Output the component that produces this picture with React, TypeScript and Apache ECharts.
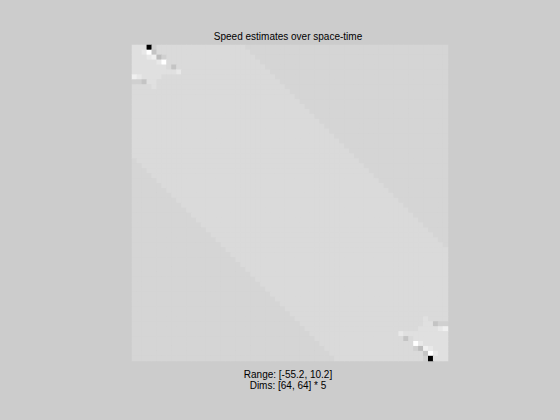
import React, { useEffect, useRef } from "react";
import * as echarts from "echarts";

// Title and annotation texts
const TITLE = "Speed estimates over space-time";
const RANGE_LABEL = "Range: [-55.2, 10.2]";
const DIMS_LABEL = "Dims: [64, 64] * 5";

// Colour scale limits (grayscale: min -> black, max -> white)
const RANGE_MIN = -55.2;
const RANGE_MAX = 10.2;

// Value levels (code -> speed estimate)
const LEVEL_CODES = ["a", "b", "c", "d", "e", "g", "h", "w", "W", "K"];
const LEVEL_VALUES = [0.7, -0.6, 2.2, -1.8, 4.3, -4.9, -7.0, 6.3, 10.2, -55.2];

// 64 rows of the 64x64 image, run-length encoded: <code><count>
const ROWS = [
  "c3 K1 d1 a18 b41",
  "c2 e1 W1 g1 a19 b40",
  "c3 e1 w1 h1 d1 a18 b39",
  "c5 e1 W1 a19 b38",
  "c7 a1 g1 a18 b37",
  "c9 e1 a18 b36",
  "w1 e1 c4 a23 b35",
  "d2 g1 c2 a25 b34",
  "a4 c1 a26 b33",
  "a32 b32",
  "a33 b31",
  "a34 b30",
  "a35 b29",
  "a36 b28",
  "a37 b27",
  "a38 b26",
  "a39 b25",
  "a40 b24",
  "a41 b23",
  "a42 b22",
  "a43 b21",
  "a44 b20",
  "a45 b19",
  "b1 a45 b18",
  "b2 a45 b17",
  "b3 a45 b16",
  "b4 a45 b15",
  "b5 a45 b14",
  "b6 a45 b13",
  "b7 a45 b12",
  "b8 a45 b11",
  "b9 a45 b10",
  "b10 a45 b9",
  "b11 a45 b8",
  "b12 a45 b7",
  "b13 a45 b6",
  "b14 a45 b5",
  "b15 a45 b4",
  "b16 a45 b3",
  "b17 a45 b2",
  "b18 a45 b1",
  "b19 a45",
  "b20 a44",
  "b21 a43",
  "b22 a42",
  "b23 a41",
  "b24 a40",
  "b25 a39",
  "b26 a38",
  "b27 a37",
  "b28 a36",
  "b29 a35",
  "b30 a34",
  "b31 a33",
  "b32 a32",
  "b33 a26 c1 a4",
  "b34 a25 c2 g1 d2",
  "b35 a23 c4 e1 w1",
  "b36 a18 e1 c9",
  "b37 a18 g1 a1 c7",
  "b38 a19 W1 e1 c5",
  "b39 a18 d1 h1 w1 e1 c3",
  "b40 a19 g1 W1 e1 c2",
  "b41 a18 d1 K1 c3",
];

function decodeRow(row: string): number[] {
  const out: number[] = [];
  row.split(" ").forEach((tok) => {
    const code = tok[0];
    const n = parseInt(tok.slice(1), 10);
    const v = LEVEL_VALUES[LEVEL_CODES.indexOf(code)];
    for (let i = 0; i < n; i++) out.push(v);
  });
  return out;
}

export default function App() {
  const ref = useRef<HTMLDivElement>(null);
  useEffect(() => {
    if (!ref.current) return;
    const chart = echarts.init(ref.current, null, { renderer: "svg" });
    const grid = ROWS.map(decodeRow);
    const nRows = grid.length;
    const nCols = grid[0].length;
    const cats = (n: number) => Array.from({ length: n }, (_, i) => String(i));
    const data: [number, number, number][] = [];
    grid.forEach((row, r) => row.forEach((v, c) => data.push([c, r, v])));
    const font = '"Liberation Sans", Arial, Helvetica, sans-serif';
    chart.setOption({
      animation: false,
      backgroundColor: "#cccccc",
      grid: { left: 132, top: 45, width: 316, height: 316 },
      xAxis: { type: "category", data: cats(nCols), show: false },
      yAxis: { type: "category", data: cats(nRows), show: false, inverse: true },
      visualMap: {
        show: false,
        type: "continuous",
        min: RANGE_MIN,
        max: RANGE_MAX,
        inRange: { color: ["#000000", "#ffffff"] },
      },
      series: [
        {
          type: "heatmap",
          data,
          itemStyle: { borderWidth: 0 },
          emphasis: { disabled: true },
        },
      ],
      graphic: [
        {
          type: "text",
          x: 288,
          y: 36.5,
          style: {
            text: TITLE,
            fill: "#000",
            font: `10px ${font}`,
            align: "center",
            verticalAlign: "middle",
          },
        },
        {
          type: "text",
          x: 288,
          y: 374.5,
          style: {
            text: RANGE_LABEL,
            fill: "#000",
            font: `10px ${font}`,
            align: "center",
            verticalAlign: "middle",
          },
        },
        {
          type: "text",
          x: 288,
          y: 385.5,
          style: {
            text: DIMS_LABEL,
            fill: "#000",
            font: `10px ${font}`,
            align: "center",
            verticalAlign: "middle",
          },
        },
      ],
    });
    return () => chart.dispose();
  }, []);
  return (
    <div
      ref={ref}
      style={{ position: "fixed", left: 0, top: 0, width: 560, height: 420 }}
    />
  );
}
